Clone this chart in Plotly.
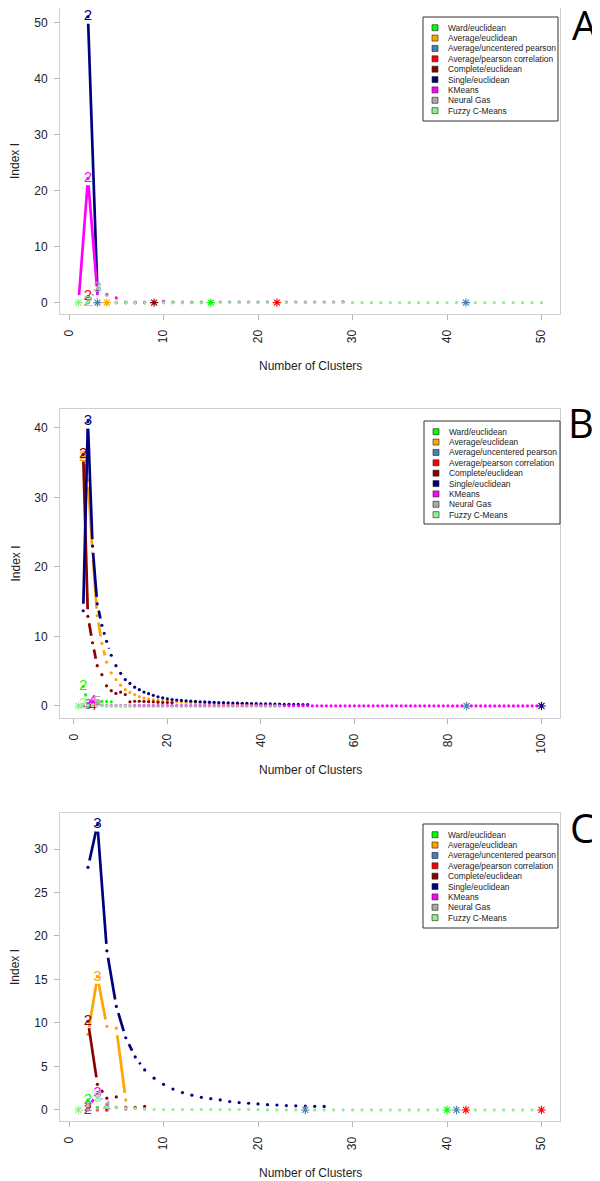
import math
import plotly.graph_objects as go

# the page body adds an 8px margin, so the figure is drawn 8px in from the corner
OFF = 8
W, H = 600 - OFF, 1181 - OFF
FONT = "Liberation Sans, Arial, sans-serif"

NAMES = ["Ward/euclidean", "Average/euclidean", "Average/uncentered pearson",
         "Average/pearson correlation", "Complete/euclidean", "Single/euclidean",
         "KMeans", "Neural Gas", "Fuzzy C-Means"]
COLORS = ["#00FF00", "#FFA500", "#4682B4", "#FF0000", "#8B0000", "#000080",
          "#FF00FF", "#A9A9A9", "#90EE90"]

# each series: (first number of clusters, Index I values)
# ---- panel A
A_WARD = (2, [0.03, 0.0, 0.0, 0.0, 0.0, 0.0, 0.0, 0.0, 0.0, 0.0, 0.0, 0.0, 0.0, 0.0])
A_AVG_EUC = (2, [0.02, 0.0, 0.0])
A_AVG_UNC = (2, [0.02, 0.0])
A_AVG_PEAR = (2, [1.07, 0.0, 0.0])
A_COMPLETE = (2, [0.02, 0.0, 0.0, 0.0, 0.0, 0.0, 0.0, 0.0])
A_SINGLE = (2, [51.1, 2.0])
A_KMEANS = (1, [0.1, 22.2, 1.6, 1.5, 0.85, 0.1, 0.1, 0.1, 0.1, 0.25,
                0.1, 0.1, 0.1, 0.1, 0.1, 0.1, 0.1, 0.1, 0.1, 0.1,
                0.1, 0.1, 0.1, 0.1, 0.1, 0.1, 0.1, 0.1, 0.15])
A_NGAS = (2, [0.3, 2.5, 1.3, 0.1, 0.05, 0.0])
A_FUZZY = (1, [0.0, 0.05, 0.0, 0.0, 0.0, 0.0, 0.0, 0.0, 0.0, 0.0,
               0.0, 0.0, 0.0, 0.0, 0.0, 0.0, 0.0, 0.0, 0.0, 0.0,
               0.0, 0.0, 0.0, 0.0, 0.0, 0.0, 0.0, 0.0, 0.0, 0.0,
               0.0, 0.0, 0.0, 0.0, 0.0, 0.0, 0.0, 0.0, 0.0, 0.0,
               0.0, 0.0, 0.0, 0.0, 0.0, 0.0, 0.0, 0.0, 0.0, 0.0])
A_STAR_SERIES = [8, 2, 1, 4, 0, 3, 2]
A_STAR_K = [1, 3, 4, 9, 15, 22, 42]
A_STAR_Y = [0.0, 0.0, 0.0, 0.0, 0.0, 0.0, 0.0]

# ---- panel B
B_WARD = (2, [2.8, 0.4, 0.55, 0.6, 0.65, 0.65, 0.6])
B_AVG_EUC = (2, [35.8, 32.5, 22.0, 13.0, 9.0, 6.3, 4.75, 3.8, 3.0, 2.35,
                 1.95, 1.63, 1.35, 1.15, 1.0, 0.9, 0.82, 0.76, 0.7, 0.65,
                 0.6, 0.57, 0.54, 0.5, 0.47, 0.45, 0.42, 0.4, 0.38, 0.36,
                 0.34, 0.32, 0.3, 0.29, 0.28, 0.27, 0.26, 0.25, 0.24])
B_AVG_UNC = (2, [0.0, 0.05])
B_AVG_PEAR = (2, [0.0, 0.0, 0.03])
B_COMPLETE = (2, [36.2, 12.9, 9.1, 5.8, 4.5, 2.9, 2.2, 1.8, 2.0, 1.65,
                  0.6, 0.68, 0.68, 0.65, 0.62, 0.6, 0.55, 0.5, 0.5, 0.45])
B_SINGLE = (2, [13.7, 40.9, 23.0, 14.7, 11.6, 9.3, 7.3, 5.8, 4.7, 3.8,
                3.25, 2.7, 2.35, 2.0, 1.77, 1.53, 1.32, 1.17, 1.03, 0.93,
                0.86, 0.8, 0.74, 0.69, 0.65, 0.61, 0.58, 0.55, 0.52, 0.49,
                0.47, 0.45, 0.43, 0.41, 0.39, 0.37, 0.35, 0.33, 0.31, 0.3,
                0.29, 0.27, 0.26, 0.25, 0.24, 0.23, 0.22, 0.21, 0.2])
B_KMEANS = (2, [0.1, 0.3, 0.65, 0.3, 0.1, 0.05, 0.05, 0.05, 0.05,
                0.05, 0.05, 0.05, 0.05, 0.05, 0.05, 0.05, 0.05, 0.05, 0.05,
                0.05, 0.05, 0.05, 0.05, 0.05, 0.05, 0.05, 0.05, 0.05, 0.05,
                0.04, 0.04, 0.04, 0.04, 0.04, 0.04, 0.04, 0.04, 0.04, 0.04,
                0.03, 0.03, 0.03, 0.03, 0.03, 0.03, 0.03, 0.03, 0.03, 0.03,
                0.02, 0.02, 0.02, 0.02, 0.02, 0.02, 0.02, 0.02, 0.02, 0.02,
                0.02, 0.02, 0.02, 0.02, 0.02, 0.02, 0.02, 0.02, 0.02, 0.02,
                0.02, 0.02, 0.02, 0.02, 0.02, 0.02, 0.02, 0.02, 0.02, 0.02,
                0.01, 0.01, 0.01, 0.01, 0.01, 0.01, 0.01, 0.01, 0.01, 0.01,
                0.01, 0.01, 0.01, 0.01, 0.01, 0.01, 0.01, 0.01, 0.01, 0.01])
B_NGAS = (2, [0.0, 0.1, 0.2, 0.5, 0.1, 0.05, 0.0, 0.0, 0.0,
              0.0, 0.0, 0.0, 0.0, 0.0, 0.0, 0.0, 0.0, 0.0, 0.0,
              0.0, 0.0, 0.0, 0.0, 0.0, 0.0, 0.0, 0.0, 0.0, 0.0,
              0.0, 0.0, 0.0, 0.0, 0.0, 0.0, 0.0, 0.0, 0.0, 0.0,
              0.0, 0.0, 0.0, 0.0])
B_FUZZY = (1, [0.0, 0.3, 0.1, 0.05, 0.0, 0.0, 0.0, 0.0, 0.0, 0.0, 0.0, 0.0])
B_STAR_SERIES = [8, 2, 5]
B_STAR_K = [1, 84, 100]
B_STAR_Y = [0.0, 0.0, 0.0]

# ---- panel C
C_WARD = (2, [1.15, 0.3, 0.1])
C_AVG_EUC = (2, [8.7, 15.3, 9.6, 9.4, 1.15])
C_AVG_UNC = (2, [0.3, 0.05, 0.0])
C_AVG_PEAR = (2, [0.02, 0.0, 0.0])
C_COMPLETE = (2, [10.2, 2.95, 1.35, 1.5, 0.3, 0.3, 0.4])
C_SINGLE = (2, [27.9, 32.8, 18.3, 11.9, 8.3, 6.1, 4.6, 3.65, 2.95, 2.4,
                2.0, 1.7, 1.45, 1.3, 1.15, 0.96, 0.85, 0.77, 0.69, 0.61,
                0.57, 0.5, 0.47, 0.45, 0.42, 0.4])
C_KMEANS = (2, [0.2, 1.9, 0.65, 0.3, 0.1])
C_NGAS = (2, [0.0, 0.1, 0.3, 0.3, 0.2, 0.2, 0.1])
C_FUZZY = (1, [0.0, 0.5, 1.35, 0.3, 0.25, 0.2, 0.15, 0.1, 0.05, 0.05,
               0.05, 0.05, 0.05, 0.05, 0.05, 0.05, 0.05, 0.05, 0.05, 0.05,
               0.0, 0.0, 0.0, 0.0, 0.0, 0.0, 0.0, 0.0, 0.0, 0.0,
               0.0, 0.0, 0.0, 0.0, 0.0, 0.0, 0.0, 0.0, 0.0, 0.0,
               0.0, 0.0, 0.0, 0.0, 0.0, 0.0, 0.0, 0.0, 0.0, 0.0])
C_STAR_SERIES = [8, 2, 0, 2, 3, 3]
C_STAR_K = [1, 25, 40, 41, 42, 50]
C_STAR_Y = [0.0, 0.0, 0.0, 0.0, 0.0, 0.0]

X_TICKS_A = [0, 10, 20, 30, 40, 50]
X_TICKS_B = [0, 20, 40, 60, 80, 100]
Y_TICKS_A = [0, 10, 20, 30, 40, 50]
Y_TICKS_B = [0, 10, 20, 30, 40]
Y_TICKS_C = [0, 5, 10, 15, 20, 25, 30]

# page pixel positions (from the top-left corner of the 600x1181 page)
panels = [
    dict(letter="A", series=[A_WARD, A_AVG_EUC, A_AVG_UNC, A_AVG_PEAR, A_COMPLETE,
                             A_SINGLE, A_KMEANS, A_NGAS, A_FUZZY],
         stars=(A_STAR_SERIES, A_STAR_K, A_STAR_Y), xticks=X_TICKS_A, yticks=Y_TICKS_A,
         xr=[-0.96, 51.96], yr=[-2.03, 52.66], box=(8, 314), legend=(423, 17, 558, 121),
         letter_xy=(585, 25)),
    dict(letter="B", series=[B_WARD, B_AVG_EUC, B_AVG_UNC, B_AVG_PEAR, B_COMPLETE,
                             B_SINGLE, B_KMEANS, B_NGAS, B_FUZZY],
         stars=(B_STAR_SERIES, B_STAR_K, B_STAR_Y), xticks=X_TICKS_B, yticks=Y_TICKS_B,
         xr=[-2.96, 103.96], yr=[-1.73, 42.73], box=(409, 718), legend=(424, 421, 560, 524),
         letter_xy=(581, 422)),
    dict(letter="C", series=[C_WARD, C_AVG_EUC, C_AVG_UNC, C_AVG_PEAR, C_COMPLETE,
                             C_SINGLE, C_KMEANS, C_NGAS, C_FUZZY],
         stars=(C_STAR_SERIES, C_STAR_K, C_STAR_Y), xticks=X_TICKS_A, yticks=Y_TICKS_C,
         xr=[-0.96, 51.96], yr=[-1.27, 34.14], box=(813, 1121), legend=(423, 824, 558, 928),
         letter_xy=(582, 827)),
]

PLOT_L, PLOT_R = 60, 560
GAP = 7.0  # R type="b": lines stop short of each point


def px(x):
    return (x - OFF) / W


def py(y):
    return 1 - (y - OFF) / H


def gapped(xs, ys, sx, sy):
    gx, gy = [], []
    for x0, y0, x1, y1 in zip(xs, ys, xs[1:], ys[1:]):
        L = math.hypot((x1 - x0) * sx, (y1 - y0) * sy)
        if L <= 2 * GAP:
            continue
        t0, t1 = GAP / L, 1 - GAP / L
        gx += [x0 + t0 * (x1 - x0), x0 + t1 * (x1 - x0), None]
        gy += [y0 + t0 * (y1 - y0), y0 + t1 * (y1 - y0), None]
    return gx, gy


def note(x, y, text, size, family=FONT, color="#222", **kw):
    d = dict(x=px(x), y=py(y), xref="paper", yref="paper", text=text,
             showarrow=False, xanchor="center", yanchor="middle",
             font=dict(family=family, size=size, color=color))
    d.update(kw)
    return d


fig = go.Figure()
shapes, annotations = [], []
layout = {}

for p, panel in enumerate(panels, start=1):
    xa, ya = ("x", "y") if p == 1 else (f"x{p}", f"y{p}")
    top, bot = panel["box"]
    sx = (PLOT_R - PLOT_L) / (panel["xr"][1] - panel["xr"][0])
    sy = (bot - top) / (panel["yr"][1] - panel["yr"][0])

    for i, (k0, vals) in enumerate(panel["series"]):
        xs = list(range(k0, k0 + len(vals)))
        gx, gy = gapped(xs, vals, sx, sy)
        if gx:
            fig.add_trace(go.Scatter(x=gx, y=gy, mode="lines", xaxis=xa, yaxis=ya,
                                     line=dict(color=COLORS[i], width=2.7),
                                     showlegend=False, hoverinfo="skip"))
        fig.add_trace(go.Scatter(x=xs, y=vals, mode="markers", xaxis=xa, yaxis=ya,
                                 marker=dict(color=COLORS[i], size=3.2),
                                 name=NAMES[i], showlegend=False))
        imax = max(range(len(vals)), key=lambda j: vals[j])
        fig.add_trace(go.Scatter(x=[xs[imax]], y=[vals[imax]], mode="text",
                                 text=[str(xs[imax])], xaxis=xa, yaxis=ya,
                                 textfont=dict(family=FONT, size=15, color=COLORS[i]),
                                 showlegend=False, hoverinfo="skip", cliponaxis=False))

    s_idx, s_k, s_y = panel["stars"]
    star_cols = [COLORS[j] for j in s_idx]
    fig.add_trace(go.Scatter(x=s_k, y=s_y, mode="markers", xaxis=xa, yaxis=ya,
                             marker=dict(symbol="asterisk-open", size=7, color=star_cols,
                                         line=dict(color=star_cols, width=1.1)),
                             showlegend=False, hoverinfo="skip"))

    axis_common = dict(showline=True, mirror=True, linecolor="#cfcfcf", linewidth=1,
                       showgrid=False, zeroline=False, ticks="outside", ticklen=5,
                       tickcolor="#b5b5b5", tickfont=dict(family=FONT, size=12, color="#222"))
    layout["xaxis" if p == 1 else f"xaxis{p}"] = dict(
        axis_common, domain=[px(PLOT_L), px(PLOT_R)], range=panel["xr"],
        tickvals=panel["xticks"], tickangle=-90, ticklabelstandoff=5,
        anchor=ya)
    layout["yaxis" if p == 1 else f"yaxis{p}"] = dict(
        axis_common, domain=[py(bot), py(top)], range=panel["yr"], tickvals=panel["yticks"],
        ticklabelstandoff=4, anchor=xa)

    # axis titles and panel letter
    annotations.append(note((PLOT_L + PLOT_R) / 2, bot + 52, "Number of Clusters", 12))
    annotations.append(note(15, (top + bot) / 2, "Index I", 12, textangle=-90))
    lx, ly = panel["letter_xy"]
    annotations.append(note(lx, ly, panel["letter"], 40, family="Open Sans, sans-serif",
                            color="black"))

    # legend (R style boxed legend with filled squares)
    x0, y0, x1, y1 = panel["legend"]
    shapes.append(dict(type="rect", xref="paper", yref="paper",
                       x0=px(x0), x1=px(x1), y0=py(y1), y1=py(y0),
                       line=dict(color="#333", width=1), fillcolor="white", layer="above"))
    for i, name in enumerate(NAMES):
        cy = y0 + 10.7 + i * 10.37
        cx = x0 + 12
        shapes.append(dict(type="rect", xref="paper", yref="paper",
                           x0=px(cx - 3), x1=px(cx + 3), y0=py(cy + 3), y1=py(cy - 3),
                           fillcolor=COLORS[i], line=dict(color="#222", width=0.6),
                           layer="above"))
        annotations.append(note(x0 + 22.7, cy, name, 8.4, xanchor="left"))

fig.update_layout(width=W, height=H, margin=dict(l=0, r=0, t=0, b=0),
                  paper_bgcolor="white", plot_bgcolor="white", showlegend=False,
                  shapes=shapes, annotations=annotations, **layout)
fig.write_html("out.html")
